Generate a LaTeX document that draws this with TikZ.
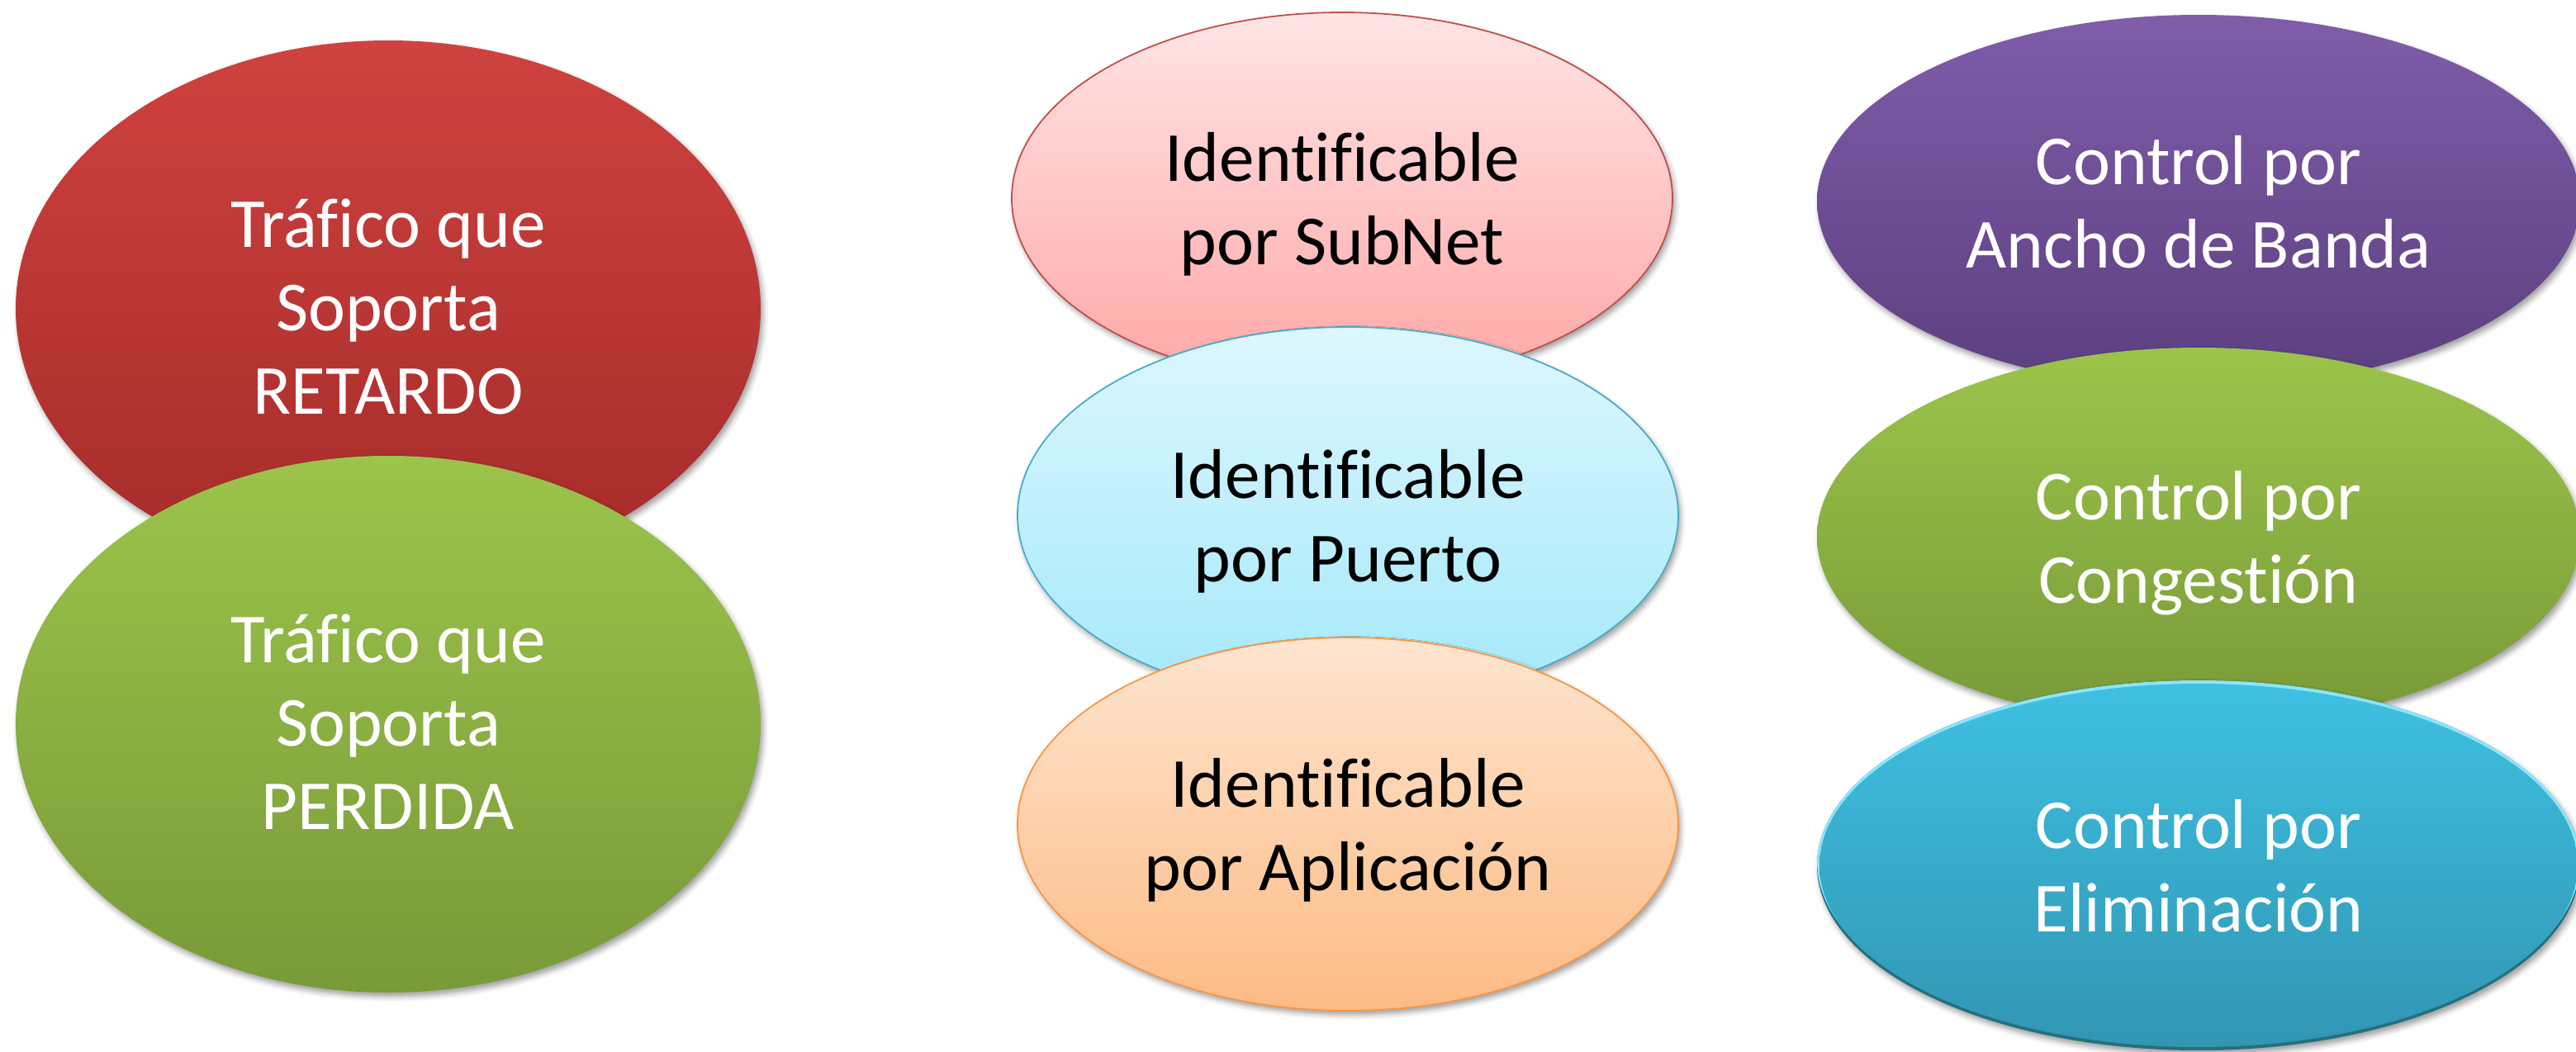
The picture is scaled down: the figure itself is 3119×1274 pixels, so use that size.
\documentclass[tikz,border=0pt]{standalone}
\usepackage{fontspec}
\setmainfont{Carlito}[Ligatures=NoCommon]
\usetikzlibrary{shapes.geometric,shadows.blur}

% fill colours
\definecolor{redtop}{HTML}{CF423F}
\definecolor{redbot}{HTML}{A32B29}
\definecolor{greentop}{HTML}{9CC44B}
\definecolor{greenbot}{HTML}{789A38}
\definecolor{pinktop}{HTML}{FFE5E5}
\definecolor{pinkbot}{HTML}{FFA7A7}
\definecolor{pinkline}{HTML}{C0504D}
\definecolor{cyantop}{HTML}{DDF7FE}
\definecolor{cyanbot}{HTML}{A3E8FA}
\definecolor{cyanline}{HTML}{4BACC6}
\definecolor{orangetop}{HTML}{FEE5CF}
\definecolor{orangebot}{HTML}{FDBB85}
\definecolor{orangeline}{HTML}{F79646}
\definecolor{purpletop}{HTML}{7F5DAA}
\definecolor{purplebot}{HTML}{5C3F7F}
\definecolor{bluetop}{HTML}{3FC0E2}
\definecolor{bluebot}{HTML}{3196B3}
\definecolor{bluelight}{HTML}{8BE6FB}
\definecolor{bluedark}{HTML}{24707F}

% centred lines, box baseline on the first line
\newcommand\stacked[1]{\begin{tabular}[t]{@{}c@{}}#1\end{tabular}}

\tikzset{
  bubble/.style={ellipse, inner sep=0pt, outer sep=0pt,
    font=\fontsize{21.3}{25.25}\selectfont, text height=0pt,
    blur shadow={shadow xshift=0.75pt, shadow yshift=-1.25pt,
      shadow blur radius=1.6pt, shadow opacity=38}},
  twolines/.style={text depth=10.5pt},
  threelines/.style={text depth=37.5pt},
  darkbubble/.style={bubble, text=white},
  lightbubble/.style={bubble, text=black, line width=0.45pt},
  bigsize/.style={minimum width=225.5pt, minimum height=162.5pt},
  midsize/.style={minimum width=200pt, minimum height=#1},
  widesize/.style={minimum width=231pt, minimum height=#1},
  % raised rim: light along the top edge, dark along the bottom edge
  bevelled/.style={path picture={
    \fill[bluedark] (path picture bounding box.south west)
      rectangle (path picture bounding box.north east);
    \fill[bluelight] ([yshift=1.25pt]path picture bounding box.center)
      ellipse [x radius=115.5pt, y radius=56pt];
    \shade[top color=bluetop, bottom color=bluebot]
      (path picture bounding box.center)
      ellipse [x radius=114.75pt, y radius=55pt];
  }}
}

\begin{document}
\begin{tikzpicture}[x=0.25pt, y=-0.25pt]
  \useasboundingbox (0,0) rectangle (3119,1274);
  \clip (0,0) rectangle (3119,1274);

  % traffic kinds
  \node[darkbubble, threelines, bigsize, top color=redtop, bottom color=redbot]
    (retardo) at (470,374) {\stacked{Tráfico que\\Soporta\\RETARDO}};
  \node[darkbubble, threelines, bigsize, top color=greentop, bottom color=greenbot]
    (perdida) at (470,877) {\stacked{Tráfico que\\Soporta\\PERDIDA}};

  % identification
  \node[lightbubble, twolines, midsize=112.5pt, draw=pinkline,
        top color=pinktop, bottom color=pinkbot]
    (subnet) at (1625,240) {\stacked{Identificable\\por SubNet}};
  \node[lightbubble, twolines, midsize=114pt, draw=cyanline,
        top color=cyantop, bottom color=cyanbot]
    (puerto) at (1632,624) {\stacked{Identificable\\por Puerto}};
  \node[lightbubble, twolines, midsize=113pt, draw=orangeline,
        top color=orangetop, bottom color=orangebot]
    (aplicacion) at (1632,998) {\stacked{Identificable\\por Aplicación}};

  % control
  \node[darkbubble, twolines, widesize=113pt,
        top color=purpletop, bottom color=purplebot]
    (ancho) at (2662,244) {\stacked{Control por\\Ancho de Banda}};
  \node[darkbubble, twolines, widesize=114.5pt,
        top color=greentop, bottom color=greenbot]
    (congestion) at (2662,650) {\stacked{Control por\\Congestión}};
  \node[darkbubble, twolines, widesize=112pt, bevelled]
    (eliminacion) at (2662,1048) {\stacked{Control por\\Eliminación}};
\end{tikzpicture}
\end{document}
